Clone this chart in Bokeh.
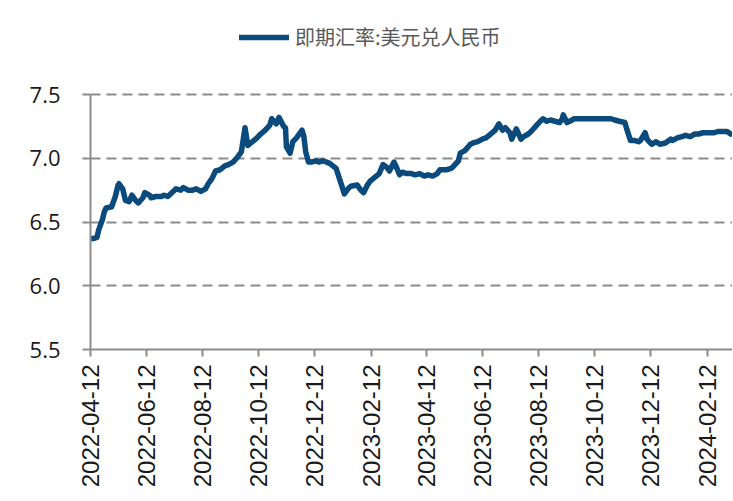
import pandas as pd
from math import pi
from bokeh.plotting import figure
from bokeh.models import (FixedTicker, DatetimeTickFormatter, Legend, LegendItem,
                          Range1d, ColumnDataSource, NumeralTickFormatter)
from bokeh.embed import file_html
from bokeh.resources import INLINE

series_name = "即期汇率:美元兑人民币"

dates = [
    "2022-04-12", "2022-04-15", "2022-04-19", "2022-04-21", "2022-04-25", "2022-04-27", "2022-04-29",
    "2022-05-05", "2022-05-09", "2022-05-12", "2022-05-13", "2022-05-17", "2022-05-20", "2022-05-24",
    "2022-05-27", "2022-05-31", "2022-06-03", "2022-06-08", "2022-06-10", "2022-06-15", "2022-06-17",
    "2022-06-22", "2022-06-28", "2022-07-01", "2022-07-05", "2022-07-08", "2022-07-14", "2022-07-19",
    "2022-07-22", "2022-07-27", "2022-08-01", "2022-08-05", "2022-08-10", "2022-08-15", "2022-08-18",
    "2022-08-22", "2022-08-26", "2022-08-31", "2022-09-05", "2022-09-09", "2022-09-14", "2022-09-19",
    "2022-09-23", "2022-09-27", "2022-09-30", "2022-10-10", "2022-10-14", "2022-10-19", "2022-10-24",
    "2022-10-26", "2022-10-31", "2022-11-03", "2022-11-08", "2022-11-10", "2022-11-11", "2022-11-15",
    "2022-11-18", "2022-11-22", "2022-11-28", "2022-11-30", "2022-12-02", "2022-12-05", "2022-12-08",
    "2022-12-13", "2022-12-16", "2022-12-21", "2022-12-28",
    "2023-01-04", "2023-01-09", "2023-01-13", "2023-01-17", "2023-01-20", "2023-01-27", "2023-01-31",
    "2023-02-03", "2023-02-07", "2023-02-10", "2023-02-15", "2023-02-20", "2023-02-24", "2023-02-28",
    "2023-03-03", "2023-03-08", "2023-03-10", "2023-03-14", "2023-03-17", "2023-03-22", "2023-03-27",
    "2023-03-31", "2023-04-05", "2023-04-10", "2023-04-14", "2023-04-19", "2023-04-24", "2023-04-27",
    "2023-05-04", "2023-05-09", "2023-05-12", "2023-05-17", "2023-05-19", "2023-05-24", "2023-05-30",
    "2023-06-02", "2023-06-07", "2023-06-12", "2023-06-16", "2023-06-21", "2023-06-26", "2023-06-30",
    "2023-07-04", "2023-07-07", "2023-07-12", "2023-07-14", "2023-07-19", "2023-07-24", "2023-07-27",
    "2023-08-01", "2023-08-04", "2023-08-09", "2023-08-14", "2023-08-17", "2023-08-21", "2023-08-25",
    "2023-08-30", "2023-09-04", "2023-09-07", "2023-09-08", "2023-09-12", "2023-09-15", "2023-09-20",
    "2023-09-25", "2023-10-09", "2023-10-13", "2023-10-18", "2023-10-24", "2023-10-30", "2023-11-03",
    "2023-11-08", "2023-11-14", "2023-11-16", "2023-11-20", "2023-11-24", "2023-11-29", "2023-12-01",
    "2023-12-06", "2023-12-08", "2023-12-13", "2023-12-18", "2023-12-22", "2023-12-28",
    "2024-01-03", "2024-01-05", "2024-01-10", "2024-01-15", "2024-01-19", "2024-01-24", "2024-01-29",
    "2024-02-02", "2024-02-07", "2024-02-14", "2024-02-19", "2024-02-23", "2024-02-28", "2024-03-04",
    "2024-03-08",
]

values = [
    6.37, 6.37, 6.38, 6.44, 6.52, 6.58, 6.61,
    6.62, 6.70, 6.79, 6.80, 6.76, 6.67, 6.66,
    6.71, 6.67, 6.65, 6.69, 6.73, 6.71, 6.69,
    6.70, 6.70, 6.71, 6.70, 6.72, 6.76, 6.75,
    6.77, 6.75, 6.75, 6.76, 6.74, 6.76, 6.80,
    6.84, 6.90, 6.91, 6.94, 6.95, 6.97, 7.01,
    7.05, 7.24, 7.10, 7.16, 7.19, 7.22, 7.26,
    7.31, 7.27, 7.32, 7.25, 7.24, 7.09, 7.04,
    7.13, 7.16, 7.22, 7.17, 7.05, 6.97, 6.97,
    6.98, 6.97, 6.98, 6.96,
    6.92, 6.81, 6.72, 6.76, 6.78, 6.79, 6.75,
    6.73, 6.79, 6.82, 6.85, 6.88, 6.95, 6.93,
    6.90, 6.97, 6.94, 6.87, 6.89, 6.88, 6.88,
    6.87, 6.88, 6.86, 6.87, 6.86, 6.88, 6.91,
    6.91, 6.92, 6.94, 6.98, 7.04, 7.06, 7.11,
    7.12, 7.13, 7.15, 7.16, 7.19, 7.22, 7.27,
    7.22, 7.24, 7.20, 7.15, 7.23, 7.15, 7.17,
    7.19, 7.21, 7.25, 7.29, 7.31, 7.29, 7.30,
    7.29, 7.28, 7.31, 7.34, 7.28, 7.29, 7.31,
    7.31, 7.31, 7.31, 7.31, 7.31, 7.31, 7.30,
    7.29, 7.28, 7.23, 7.14, 7.14, 7.13, 7.14,
    7.20, 7.15, 7.11, 7.13, 7.11, 7.12,
    7.15, 7.14, 7.16, 7.17, 7.18, 7.17, 7.19,
    7.19, 7.20, 7.20, 7.20, 7.21, 7.21, 7.21,
    7.19,
]

tick_dates = ["2022-04-12", "2022-06-12", "2022-08-12", "2022-10-12", "2022-12-12", "2023-02-12",
              "2023-04-12", "2023-06-12", "2023-08-12", "2023-10-12", "2023-12-12", "2024-02-12"]
y_ticks = [5.5, 6.0, 6.5, 7.0, 7.5]
grid_ticks = [6.0, 6.5, 7.0, 7.5]

x_start, x_end = "2022-04-12", "2024-03-10"
y_min, y_max = 5.5, 7.5

# frame layout (pixels): axis spans 255 px; extra headroom above for the legend
axis_px = 255
top_border, bottom_border = 10, 151
fig_w, fig_h = 732, 500
frame_h = fig_h - top_border - bottom_border
headroom = (frame_h - axis_px) * (y_max - y_min) / axis_px

df = pd.DataFrame({"date": pd.to_datetime(dates), "value": values})
src = ColumnDataSource(df)

line_color = "#0b4a7d"
gray = "#8c8c8c"

p = figure(width=fig_w, height=fig_h, x_axis_type="datetime", output_backend="svg",
           toolbar_location=None,
           x_range=Range1d(pd.Timestamp(x_start), pd.Timestamp(x_end)),
           y_range=Range1d(y_min, y_max + headroom),
           min_border_left=90, min_border_right=0, min_border_top=top_border,
           min_border_bottom=bottom_border)
p.outline_line_color = None
p.background_fill_color = "white"
p.border_fill_color = "white"

r = p.line("date", "value", source=src, line_color=line_color, line_width=5.5,
           line_join="round", line_cap="round")

tick_ms = [pd.Timestamp(d).value // 10**6 for d in tick_dates]
p.xaxis.ticker = FixedTicker(ticks=tick_ms)
fmt = "%Y-%m-%d"
p.xaxis.formatter = DatetimeTickFormatter(milliseconds=fmt, seconds=fmt, minsec=fmt, minutes=fmt,
                                          hourmin=fmt, hours=fmt, days=fmt, months=fmt, years=fmt)
p.xaxis.major_label_orientation = pi / 2
p.xaxis.major_label_text_font = "Liberation Sans"
p.xaxis.major_label_text_font_size = "24px"
p.xaxis.major_label_text_color = "#1a1a1a"
p.xaxis.major_label_standoff = 8
p.xaxis.major_tick_out = 7
p.xaxis.major_tick_in = 0
p.xaxis.minor_tick_out = 0
p.xaxis.minor_tick_in = 0
p.xaxis.axis_line_color = gray
p.xaxis.axis_line_width = 2
p.xaxis.major_tick_line_color = gray
p.xaxis.major_tick_line_width = 2

p.yaxis.ticker = FixedTicker(ticks=y_ticks)
p.yaxis.bounds = (y_min, y_max)
p.yaxis.formatter = NumeralTickFormatter(format="0.0")
p.yaxis.major_label_text_font = "Open Sans"
p.yaxis.major_label_text_font_size = "22px"
p.yaxis.major_label_text_color = "#1a1a1a"
p.yaxis.major_label_standoff = 22
p.yaxis.major_tick_out = 8
p.yaxis.major_tick_in = 0
p.yaxis.minor_tick_out = 0
p.yaxis.minor_tick_in = 0
p.yaxis.axis_line_color = gray
p.yaxis.axis_line_width = 2
p.yaxis.major_tick_line_color = gray
p.yaxis.major_tick_line_width = 2

p.xgrid.grid_line_color = None
p.ygrid.ticker = FixedTicker(ticks=grid_ticks)
p.ygrid.grid_line_color = gray
p.ygrid.grid_line_width = 2
p.ygrid.grid_line_dash = "10 6"

legend = Legend(items=[LegendItem(label=series_name, renderers=[r])],
                location=(149, 298), orientation="horizontal",
                padding=0, margin=0, spacing=0,
                glyph_width=50, glyph_height=20, label_standoff=6,
                label_text_font="Noto Sans CJK SC", label_text_font_size="20px",
                label_text_color="#595959",
                border_line_color=None, background_fill_alpha=0)
p.add_layout(legend, "center")

open("out.html", "w").write(file_html(p, INLINE))
